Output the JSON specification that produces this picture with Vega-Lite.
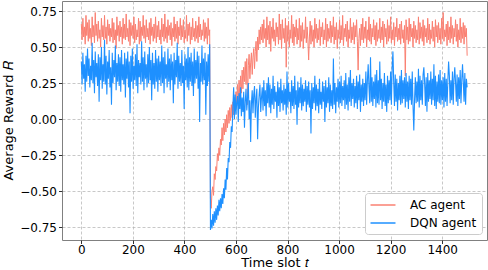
{
"$schema": "https://vega.github.io/schema/vega-lite/v6.json",
"width": 425,
"height": 239,
"autosize": {"type": "none"},
"padding": {"left": 62, "top": 1, "right": 1, "bottom": 30},
"background": "white",
"config": {
"view": {"stroke": "#808080", "strokeWidth": 1},
"font": "DejaVu Sans",
"axis": {"labelFont": "DejaVu Sans", "labelFontSize": 12, "labelColor": "black", "labelOverlap": false, "titleFont": "DejaVu Sans", "titleFontSize": 13, "titleFontWeight": "normal", "titleColor": "black", "tickColor": "#333", "tickSize": 3.5, "domain": false, "grid": true, "gridDash": [3, 2], "gridColor": "#b0b0b0", "gridOpacity": 0.7},
"legend": {"labelFont": "DejaVu Sans", "labelFontSize": 12, "labelColor": "black"}
},
"data": {"values": [
{"t":0,"a":0.66,"d":0.40},{"t":3,"a":0.55,"d":0.24},{"t":6,"a":0.70,"d":0.46},{"t":9,"a":0.57,"d":0.28},{"t":12,"a":0.64,"d":0.38},{"t":15,"a":0.52,"d":0.19},{"t":18,"a":0.72,"d":0.44},{"t":21,"a":0.58,"d":0.26},{"t":24,"a":0.67,"d":0.49},{"t":27,"a":0.54,"d":0.30},
{"t":30,"a":0.69,"d":0.42},{"t":33,"a":0.56,"d":0.22},{"t":36,"a":0.63,"d":0.37},{"t":39,"a":0.51,"d":0.27},{"t":42,"a":0.71,"d":0.53},{"t":45,"a":0.57,"d":0.25},{"t":48,"a":0.65,"d":0.41},{"t":51,"a":0.53,"d":0.18},{"t":54,"a":0.74,"d":0.47},{"t":57,"a":0.58,"d":0.29},
{"t":60,"a":0.66,"d":0.39},{"t":63,"a":0.54,"d":0.23},{"t":66,"a":0.68,"d":0.45},{"t":69,"a":0.56,"d":0.12},{"t":72,"a":0.62,"d":0.43},{"t":75,"a":0.50,"d":0.27},{"t":78,"a":0.70,"d":0.50},{"t":81,"a":0.57,"d":0.21},{"t":84,"a":0.65,"d":0.38},{"t":87,"a":0.55,"d":0.26},
{"t":90,"a":0.72,"d":0.55},{"t":93,"a":0.56,"d":0.24},{"t":96,"a":0.64,"d":0.44},{"t":99,"a":0.52,"d":0.17},{"t":102,"a":0.69,"d":0.40},{"t":105,"a":0.58,"d":0.28},{"t":108,"a":0.66,"d":0.48},{"t":111,"a":0.54,"d":0.22},{"t":114,"a":0.63,"d":0.36},{"t":117,"a":0.57,"d":0.10},
{"t":120,"a":0.70,"d":0.46},{"t":123,"a":0.53,"d":0.25},{"t":126,"a":0.67,"d":0.41},{"t":129,"a":0.55,"d":0.29},{"t":132,"a":0.62,"d":0.51},{"t":135,"a":0.49,"d":0.20},{"t":138,"a":0.71,"d":0.39},{"t":141,"a":0.58,"d":0.26},{"t":144,"a":0.65,"d":0.45},{"t":147,"a":0.54,"d":0.23},
{"t":150,"a":0.68,"d":0.43},{"t":153,"a":0.57,"d":0.19},{"t":156,"a":0.64,"d":0.48},{"t":159,"a":0.52,"d":0.27},{"t":162,"a":0.70,"d":0.38},{"t":165,"a":0.56,"d":0.24},{"t":168,"a":0.66,"d":0.46},{"t":171,"a":0.55,"d":0.15},{"t":174,"a":0.73,"d":0.42},{"t":177,"a":0.57,"d":0.28},
{"t":180,"a":0.63,"d":0.47},{"t":183,"a":0.54,"d":0.22},{"t":186,"a":0.69,"d":0.40},{"t":189,"a":0.51,"d":0.04},{"t":192,"a":0.67,"d":0.44},{"t":195,"a":0.58,"d":0.26},{"t":198,"a":0.65,"d":0.49},{"t":201,"a":0.56,"d":0.21},{"t":204,"a":0.71,"d":0.37},{"t":207,"a":0.53,"d":0.27},
{"t":210,"a":0.66,"d":0.45},{"t":213,"a":0.55,"d":0.23},{"t":216,"a":0.62,"d":0.52},{"t":219,"a":0.57,"d":0.18},{"t":222,"a":0.70,"d":0.41},{"t":225,"a":0.52,"d":0.29},{"t":228,"a":0.68,"d":0.39},{"t":231,"a":0.54,"d":0.24},{"t":234,"a":0.64,"d":0.54},{"t":237,"a":0.58,"d":0.26},
{"t":240,"a":0.72,"d":0.43},{"t":243,"a":0.56,"d":0.20},{"t":246,"a":0.65,"d":0.47},{"t":249,"a":0.53,"d":0.28},{"t":252,"a":0.69,"d":0.38},{"t":255,"a":0.57,"d":0.22},{"t":258,"a":0.63,"d":0.45},{"t":261,"a":0.55,"d":0.25},{"t":264,"a":0.67,"d":0.50},{"t":267,"a":0.52,"d":0.27},
{"t":270,"a":0.70,"d":0.41},{"t":273,"a":0.58,"d":0.13},{"t":276,"a":0.64,"d":0.46},{"t":279,"a":0.54,"d":0.24},{"t":282,"a":0.66,"d":0.39},{"t":285,"a":0.56,"d":0.21},{"t":288,"a":0.71,"d":0.48},{"t":291,"a":0.53,"d":0.26},{"t":294,"a":0.65,"d":0.42},{"t":297,"a":0.57,"d":0.19},
{"t":300,"a":0.68,"d":0.44},{"t":303,"a":0.55,"d":0.27},{"t":306,"a":0.62,"d":0.40},{"t":309,"a":0.52,"d":0.23},{"t":312,"a":0.70,"d":0.51},{"t":315,"a":0.57,"d":0.25},{"t":318,"a":0.66,"d":0.43},{"t":321,"a":0.54,"d":0.18},{"t":324,"a":0.73,"d":0.47},{"t":327,"a":0.56,"d":0.28},
{"t":330,"a":0.64,"d":0.38},{"t":333,"a":0.53,"d":0.22},{"t":336,"a":0.69,"d":0.49},{"t":339,"a":0.58,"d":0.26},{"t":342,"a":0.65,"d":0.42},{"t":345,"a":0.55,"d":0.20},{"t":348,"a":0.67,"d":0.45},{"t":351,"a":0.51,"d":0.27},{"t":354,"a":0.63,"d":0.40},{"t":357,"a":0.57,"d":0.11},
{"t":360,"a":0.71,"d":0.46},{"t":363,"a":0.54,"d":0.24},{"t":366,"a":0.66,"d":0.41},{"t":369,"a":0.56,"d":0.29},{"t":372,"a":0.68,"d":0.53},{"t":375,"a":0.52,"d":0.21},{"t":378,"a":0.64,"d":0.44},{"t":381,"a":0.58,"d":0.26},{"t":384,"a":0.70,"d":0.39},{"t":387,"a":0.55,"d":0.23},
{"t":390,"a":0.65,"d":0.48},{"t":393,"a":0.57,"d":0.25},{"t":396,"a":0.69,"d":0.37},{"t":399,"a":0.53,"d":0.07},{"t":402,"a":0.62,"d":0.45},{"t":405,"a":0.56,"d":0.27},{"t":408,"a":0.72,"d":0.42},{"t":411,"a":0.54,"d":0.22},{"t":414,"a":0.66,"d":0.50},{"t":417,"a":0.58,"d":0.20},
{"t":420,"a":0.67,"d":0.43},{"t":423,"a":0.52,"d":0.26},{"t":426,"a":0.64,"d":0.46},{"t":429,"a":0.55,"d":0.23},{"t":432,"a":0.70,"d":0.40},{"t":435,"a":0.57,"d":0.16},{"t":438,"a":0.63,"d":0.49},{"t":441,"a":0.54,"d":0.25},{"t":444,"a":0.68,"d":0.41},{"t":447,"a":0.56,"d":0.28},
{"t":450,"a":0.65,"d":0.47},{"t":453,"a":0.53,"d":0.21},{"t":456,"a":0.71,"d":0.44},{"t":459,"a":0.57,"d":-0.02},{"t":462,"a":0.66,"d":0.39},{"t":465,"a":0.55,"d":0.26},{"t":468,"a":0.62,"d":0.51},{"t":471,"a":0.58,"d":0.24},{"t":474,"a":0.69,"d":0.42},{"t":477,"a":0.54,"d":0.27},
{"t":480,"a":0.67,"d":0.46},{"t":483,"a":0.56,"d":0.03},{"t":486,"a":0.64,"d":0.40},{"t":489,"a":0.52,"d":0.23},{"t":492,"a":0.70,"d":0.45},{"t":495,"a":0.58,"d":0.26},{"t":498,"a":0.62,"d":0.52},
{"t":501,"a":-0.55,"d":-0.77},{"t":504,"a":-0.62,"d":-0.70},{"t":507,"a":-0.50,"d":-0.76},{"t":510,"a":-0.47,"d":-0.66},{"t":513,"a":-0.53,"d":-0.74},{"t":516,"a":-0.38,"d":-0.64},{"t":519,"a":-0.42,"d":-0.72},{"t":522,"a":-0.33,"d":-0.62},{"t":525,"a":-0.36,"d":-0.70},{"t":528,"a":-0.24,"d":-0.60},
{"t":531,"a":-0.29,"d":-0.67},{"t":534,"a":-0.20,"d":-0.56},{"t":537,"a":-0.25,"d":-0.64},{"t":540,"a":-0.14,"d":-0.55},{"t":543,"a":-0.18,"d":-0.62},{"t":546,"a":-0.06,"d":-0.52},{"t":549,"a":-0.15,"d":-0.59},{"t":552,"a":-0.03,"d":-0.48},{"t":555,"a":-0.11,"d":-0.55},{"t":558,"a":0.00,"d":-0.42},
{"t":561,"a":-0.09,"d":-0.49},{"t":564,"a":0.03,"d":-0.34},{"t":567,"a":-0.06,"d":-0.42},{"t":570,"a":0.06,"d":-0.27},{"t":573,"a":-0.03,"d":-0.30},{"t":576,"a":0.08,"d":-0.16},{"t":579,"a":-0.01,"d":-0.20},{"t":582,"a":0.10,"d":-0.05},{"t":585,"a":0.01,"d":-0.09},{"t":588,"a":0.12,"d":0.08},
{"t":591,"a":0.03,"d":0.22},{"t":594,"a":0.15,"d":0.00},{"t":597,"a":0.06,"d":0.17},{"t":600,"a":0.19,"d":0.03},{"t":603,"a":0.09,"d":0.12},{"t":606,"a":0.24,"d":0.16},{"t":609,"a":0.12,"d":-0.02},{"t":612,"a":0.27,"d":0.18},{"t":615,"a":0.15,"d":0.07},{"t":618,"a":0.30,"d":0.22},
{"t":621,"a":0.18,"d":0.02},{"t":624,"a":0.34,"d":0.15},{"t":627,"a":0.21,"d":0.05},{"t":630,"a":0.36,"d":0.19},{"t":633,"a":0.26,"d":-0.06},{"t":636,"a":0.40,"d":0.12},{"t":639,"a":0.24,"d":0.21},{"t":642,"a":0.42,"d":0.06},{"t":645,"a":0.10,"d":0.15},{"t":648,"a":0.37,"d":0.25},
{"t":651,"a":0.45,"d":0.00},{"t":654,"a":0.28,"d":0.13},{"t":657,"a":0.39,"d":-0.16},{"t":660,"a":0.46,"d":0.11},{"t":663,"a":0.31,"d":0.20},{"t":666,"a":0.43,"d":0.04},{"t":669,"a":0.49,"d":0.17},{"t":672,"a":0.35,"d":0.23},{"t":675,"a":0.47,"d":0.01},{"t":678,"a":0.54,"d":0.14},
{"t":681,"a":0.40,"d":0.21},{"t":684,"a":0.57,"d":-0.14},{"t":687,"a":0.48,"d":0.08},{"t":690,"a":0.62,"d":0.17},{"t":693,"a":0.52,"d":0.24},{"t":696,"a":0.64,"d":0.05},{"t":699,"a":0.55,"d":0.15},
{"t":702,"a":0.66,"d":0.22},{"t":705,"a":0.53,"d":0.06},{"t":708,"a":0.69,"d":0.27},{"t":711,"a":0.56,"d":0.09},{"t":714,"a":0.63,"d":0.20},{"t":717,"a":0.50,"d":0.02},{"t":720,"a":0.71,"d":0.25},{"t":723,"a":0.55,"d":0.11},{"t":726,"a":0.65,"d":0.29},{"t":729,"a":0.52,"d":0.08},
{"t":732,"a":0.68,"d":0.24},{"t":735,"a":0.47,"d":0.04},{"t":738,"a":0.64,"d":0.21},{"t":741,"a":0.56,"d":0.10},{"t":744,"a":0.70,"d":0.30},{"t":747,"a":0.54,"d":0.07},{"t":750,"a":0.62,"d":0.23},{"t":753,"a":0.51,"d":0.12},{"t":756,"a":0.67,"d":0.19},{"t":759,"a":0.57,"d":0.01},
{"t":762,"a":0.64,"d":0.26},{"t":765,"a":0.52,"d":0.09},{"t":768,"a":0.73,"d":0.22},{"t":771,"a":0.55,"d":0.05},{"t":774,"a":0.66,"d":0.28},{"t":777,"a":0.49,"d":0.11},{"t":780,"a":0.69,"d":0.20},{"t":783,"a":0.56,"d":0.06},{"t":786,"a":0.63,"d":0.24},{"t":789,"a":0.53,"d":0.10},
{"t":792,"a":0.70,"d":0.21},{"t":795,"a":0.36,"d":0.03},{"t":798,"a":0.65,"d":0.33},{"t":801,"a":0.54,"d":0.08},{"t":804,"a":0.68,"d":0.25},{"t":807,"a":0.50,"d":0.12},{"t":810,"a":0.62,"d":0.19},{"t":813,"a":0.56,"d":0.04},{"t":816,"a":0.72,"d":0.27},{"t":819,"a":0.53,"d":0.09},
{"t":822,"a":0.66,"d":0.23},{"t":825,"a":0.51,"d":0.07},{"t":828,"a":0.64,"d":0.30},{"t":831,"a":0.57,"d":0.10},{"t":834,"a":0.69,"d":0.20},{"t":837,"a":0.52,"d":-0.04},{"t":840,"a":0.63,"d":0.26},{"t":843,"a":0.55,"d":0.08},{"t":846,"a":0.70,"d":0.22},{"t":849,"a":0.50,"d":0.11},
{"t":852,"a":0.65,"d":0.29},{"t":855,"a":0.54,"d":0.06},{"t":858,"a":0.67,"d":0.24},{"t":861,"a":0.49,"d":0.09},{"t":864,"a":0.62,"d":0.21},{"t":867,"a":0.56,"d":0.12},{"t":870,"a":0.71,"d":0.27},{"t":873,"a":0.53,"d":0.05},{"t":876,"a":0.64,"d":0.23},{"t":879,"a":0.55,"d":0.10},
{"t":882,"a":0.41,"d":0.26},{"t":885,"a":0.57,"d":0.08},{"t":888,"a":0.68,"d":0.20},{"t":891,"a":0.52,"d":-0.10},{"t":894,"a":0.65,"d":0.25},{"t":897,"a":0.54,"d":0.07},{"t":900,"a":0.62,"d":0.22},{"t":903,"a":0.50,"d":0.11},{"t":906,"a":0.70,"d":0.30},{"t":909,"a":0.56,"d":0.06},
{"t":912,"a":0.66,"d":0.24},{"t":915,"a":0.53,"d":0.09},{"t":918,"a":0.63,"d":0.21},{"t":921,"a":0.55,"d":0.04},{"t":924,"a":0.69,"d":0.28},{"t":927,"a":0.51,"d":0.10},{"t":930,"a":0.64,"d":0.19},{"t":933,"a":0.57,"d":0.07},{"t":936,"a":0.67,"d":0.26},{"t":939,"a":0.52,"d":0.12},
{"t":942,"a":0.62,"d":0.23},{"t":945,"a":0.55,"d":-0.02},{"t":948,"a":0.70,"d":0.27},{"t":951,"a":0.50,"d":0.08},{"t":954,"a":0.66,"d":0.22},{"t":957,"a":0.54,"d":0.11},{"t":960,"a":0.63,"d":0.29},{"t":963,"a":0.56,"d":0.05},{"t":966,"a":0.68,"d":0.24},{"t":969,"a":0.53,"d":0.09},
{"t":972,"a":0.65,"d":0.20},{"t":975,"a":0.57,"d":0.07},{"t":978,"a":0.71,"d":0.42},{"t":981,"a":0.52,"d":0.10},{"t":984,"a":0.64,"d":0.25},{"t":987,"a":0.55,"d":0.04},{"t":990,"a":0.67,"d":0.22},{"t":993,"a":0.49,"d":0.12},{"t":996,"a":0.62,"d":0.28},{"t":999,"a":0.56,"d":0.08},
{"t":1002,"a":0.69,"d":0.26},{"t":1005,"a":0.53,"d":0.11},{"t":1008,"a":0.65,"d":0.30},{"t":1011,"a":0.55,"d":0.09},{"t":1014,"a":0.72,"d":0.23},{"t":1017,"a":0.51,"d":0.13},{"t":1020,"a":0.63,"d":0.27},{"t":1023,"a":0.57,"d":0.07},{"t":1026,"a":0.66,"d":0.32},{"t":1029,"a":0.54,"d":0.10},
{"t":1032,"a":0.68,"d":0.24},{"t":1035,"a":0.50,"d":0.06},{"t":1038,"a":0.62,"d":0.29},{"t":1041,"a":0.56,"d":0.12},{"t":1044,"a":0.70,"d":0.34},{"t":1047,"a":0.53,"d":0.09},{"t":1050,"a":0.64,"d":0.25},{"t":1053,"a":0.55,"d":0.14},{"t":1056,"a":0.67,"d":0.28},{"t":1059,"a":0.52,"d":0.08},
{"t":1062,"a":0.65,"d":0.23},{"t":1065,"a":0.57,"d":0.11},{"t":1068,"a":0.69,"d":0.30},{"t":1071,"a":0.54,"d":0.07},{"t":1074,"a":0.34,"d":0.26},{"t":1077,"a":0.56,"d":0.13},{"t":1080,"a":0.63,"d":0.31},{"t":1083,"a":0.51,"d":0.05},{"t":1086,"a":0.66,"d":0.24},{"t":1089,"a":0.55,"d":0.12},
{"t":1092,"a":0.70,"d":0.28},{"t":1095,"a":0.53,"d":0.09},{"t":1098,"a":0.64,"d":0.25},{"t":1101,"a":0.56,"d":0.13},{"t":1104,"a":0.68,"d":0.33},{"t":1107,"a":0.50,"d":0.10},{"t":1110,"a":0.62,"d":0.27},{"t":1113,"a":0.55,"d":0.38},{"t":1116,"a":0.71,"d":0.22},{"t":1119,"a":0.54,"d":0.11},
{"t":1122,"a":0.66,"d":0.43},{"t":1125,"a":0.52,"d":0.12},{"t":1128,"a":0.63,"d":0.29},{"t":1131,"a":0.57,"d":0.09},{"t":1134,"a":0.69,"d":0.26},{"t":1137,"a":0.55,"d":0.14},{"t":1140,"a":0.65,"d":0.31},{"t":1143,"a":0.51,"d":0.08},{"t":1146,"a":0.67,"d":0.34},{"t":1149,"a":0.54,"d":0.11},
{"t":1152,"a":0.62,"d":0.27},{"t":1155,"a":0.56,"d":0.10},{"t":1158,"a":0.70,"d":0.40},{"t":1161,"a":0.53,"d":0.13},{"t":1164,"a":0.64,"d":0.28},{"t":1167,"a":0.55,"d":0.07},{"t":1170,"a":0.68,"d":0.25},{"t":1173,"a":0.50,"d":0.12},{"t":1176,"a":0.66,"d":0.32},{"t":1179,"a":0.57,"d":0.09},
{"t":1182,"a":0.63,"d":0.24},{"t":1185,"a":0.52,"d":0.05},{"t":1188,"a":0.69,"d":0.30},{"t":1191,"a":0.54,"d":0.11},{"t":1194,"a":0.65,"d":0.27},{"t":1197,"a":0.56,"d":0.13},{"t":1200,"a":0.71,"d":0.33},{"t":1203,"a":0.53,"d":0.10},{"t":1206,"a":0.62,"d":0.36},{"t":1209,"a":0.55,"d":0.47},
{"t":1212,"a":0.67,"d":0.26},{"t":1215,"a":0.51,"d":0.09},{"t":1218,"a":0.64,"d":0.31},{"t":1221,"a":0.57,"d":0.12},{"t":1224,"a":0.70,"d":0.28},{"t":1227,"a":0.54,"d":0.06},{"t":1230,"a":0.63,"d":0.25},{"t":1233,"a":0.55,"d":0.13},{"t":1236,"a":0.66,"d":0.30},{"t":1239,"a":0.52,"d":0.10},
{"t":1242,"a":0.68,"d":0.34},{"t":1245,"a":0.56,"d":0.11},{"t":1248,"a":0.62,"d":0.27},{"t":1251,"a":0.53,"d":0.14},{"t":1254,"a":0.65,"d":0.29},{"t":1257,"a":0.30,"d":0.08},{"t":1260,"a":0.69,"d":0.32},{"t":1263,"a":0.55,"d":0.12},{"t":1266,"a":0.64,"d":0.26},{"t":1269,"a":0.52,"d":0.07},
{"t":1272,"a":0.70,"d":0.30},{"t":1275,"a":0.54,"d":0.13},{"t":1278,"a":0.66,"d":0.28},{"t":1281,"a":0.57,"d":0.10},{"t":1284,"a":0.63,"d":0.33},{"t":1287,"a":0.50,"d":0.09},{"t":1290,"a":0.68,"d":-0.08},{"t":1293,"a":0.56,"d":0.14},{"t":1296,"a":0.65,"d":0.29},{"t":1299,"a":0.53,"d":0.11},
{"t":1302,"a":0.62,"d":0.26},{"t":1305,"a":0.55,"d":0.12},{"t":1308,"a":0.71,"d":0.35},{"t":1311,"a":0.52,"d":0.08},{"t":1314,"a":0.67,"d":0.30},{"t":1317,"a":0.56,"d":0.13},{"t":1320,"a":0.64,"d":0.27},{"t":1323,"a":0.54,"d":0.10},{"t":1326,"a":0.69,"d":0.31},{"t":1329,"a":0.51,"d":0.36},
{"t":1332,"a":0.65,"d":0.25},{"t":1335,"a":0.57,"d":0.09},{"t":1338,"a":0.63,"d":0.29},{"t":1341,"a":0.53,"d":0.05},{"t":1344,"a":0.70,"d":0.32},{"t":1347,"a":0.55,"d":0.12},{"t":1350,"a":0.66,"d":0.27},{"t":1353,"a":0.52,"d":0.14},{"t":1356,"a":0.62,"d":0.33},{"t":1359,"a":0.56,"d":0.10},
{"t":1362,"a":0.68,"d":0.28},{"t":1365,"a":0.54,"d":0.13},{"t":1368,"a":0.64,"d":0.38},{"t":1371,"a":0.50,"d":0.09},{"t":1374,"a":0.69,"d":0.30},{"t":1377,"a":0.57,"d":0.07},{"t":1380,"a":0.65,"d":0.26},{"t":1383,"a":0.53,"d":0.12},{"t":1386,"a":0.67,"d":0.31},{"t":1389,"a":0.55,"d":0.11},
{"t":1392,"a":0.63,"d":0.34},{"t":1395,"a":0.52,"d":0.10},{"t":1398,"a":0.70,"d":0.27},{"t":1401,"a":0.56,"d":0.13},{"t":1404,"a":0.74,"d":0.29},{"t":1407,"a":0.54,"d":0.08},{"t":1410,"a":0.62,"d":0.32},{"t":1413,"a":0.57,"d":0.12},{"t":1416,"a":0.66,"d":0.28},{"t":1419,"a":0.51,"d":0.09},
{"t":1422,"a":0.68,"d":0.26},{"t":1425,"a":0.55,"d":0.40},{"t":1428,"a":0.64,"d":0.30},{"t":1431,"a":0.53,"d":0.11},{"t":1434,"a":0.71,"d":0.27},{"t":1437,"a":0.56,"d":0.13},{"t":1440,"a":0.65,"d":0.33},{"t":1443,"a":0.52,"d":0.10},{"t":1446,"a":0.63,"d":0.28},{"t":1449,"a":0.57,"d":0.36},
{"t":1452,"a":0.69,"d":0.25},{"t":1455,"a":0.54,"d":0.12},{"t":1458,"a":0.66,"d":0.31},{"t":1461,"a":0.50,"d":0.09},{"t":1464,"a":0.62,"d":0.29},{"t":1467,"a":0.55,"d":0.14},{"t":1470,"a":0.70,"d":0.34},{"t":1473,"a":0.53,"d":0.11},{"t":1476,"a":0.64,"d":0.27},{"t":1479,"a":0.56,"d":0.38},
{"t":1482,"a":0.67,"d":0.26},{"t":1485,"a":0.52,"d":0.12},{"t":1488,"a":0.65,"d":0.32},{"t":1491,"a":0.57,"d":0.10},{"t":1494,"a":0.63,"d":0.28},{"t":1497,"a":0.44,"d":0.22}
]},
"encoding": {
"x": {"field": "t", "type": "quantitative", "scale": {"domain": [-75, 1574], "nice": false, "zero": false}, "axis": {"values": [0, 200, 400, 600, 800, 1000, 1200, 1400], "tickCount": 20, "format": "d", "labelOverlap": false, "title": "Time slot 𝑡", "titlePadding": 1, "labelPadding": 1}}
},
"layer": [
{"mark": {"type": "line", "strokeWidth": 1, "clip": true}, "encoding": {
"y": {"field": "a", "type": "quantitative", "scale": {"domain": [-0.84, 0.82], "nice": false, "zero": false}, "axis": {"values": [-0.75, -0.5, -0.25, 0, 0.25, 0.5, 0.75], "tickCount": 20, "format": ".2f", "labelOverlap": false, "labelPadding": 2, "title": "Average Reward 𝑅", "titlePadding": 4}},
"color": {"datum": "AC agent", "type": "nominal", "scale": {"domain": ["AC agent", "DQN agent"], "range": ["#FA8072", "#1E90FF"]}, "legend": {"title": null, "orient": "none", "legendX": 303, "legendY": 192, "symbolType": "M-2,0H2", "symbolSize": 156, "symbolOffset": 6, "symbolStrokeWidth": 1.5, "fillColor": "white", "strokeColor": "#cccccc", "cornerRadius": 3, "padding": 5, "rowPadding": 5, "labelOffset": 20}}
}},
{"mark": {"type": "line", "strokeWidth": 1.1, "clip": true}, "encoding": {
"y": {"field": "d", "type": "quantitative"},
"color": {"datum": "DQN agent", "type": "nominal"}
}}
]
}
